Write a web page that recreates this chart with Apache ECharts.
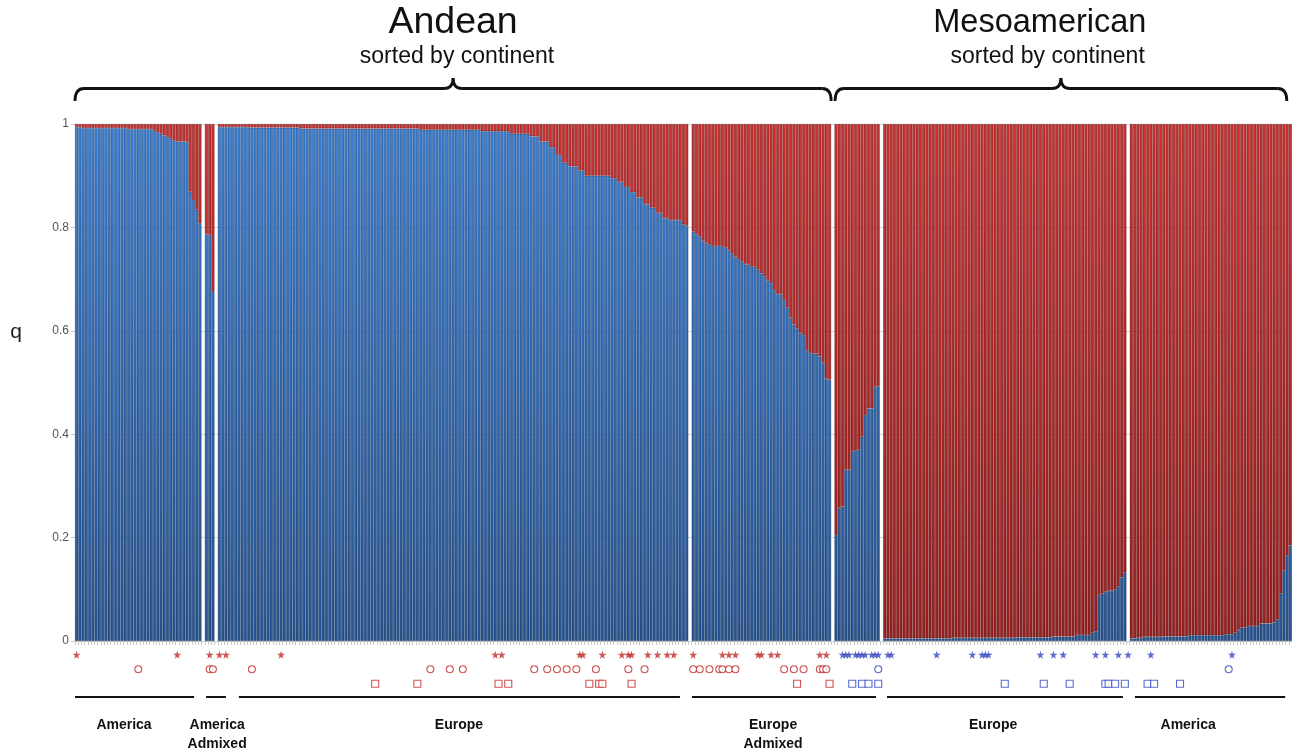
<!DOCTYPE html>
<html><head><meta charset="utf-8">
<script src="https://cdn.jsdelivr.net/npm/echarts@6/dist/echarts.min.js"></script>
<style>html,body{margin:0;padding:0;background:#fff}#c{width:1292px;height:751px}</style>
</head><body><div id="c"></div>
<script>
// ---- q values (blue component), one array per population block, left to right ----
const qAndeanAmerica = [0.994,0.994,0.992,0.992,0.992,0.992,0.992,0.992,0.992,0.992,0.992,0.992,0.992,0.992,0.992,0.992,
  0.990,0.990,0.990,0.990,0.990,0.990,0.990,0.990,0.987,0.984,0.981,0.978,0.975,0.972,0.968,0.966,0.966,0.966,0.965,
  0.869,0.853,0.834,0.808];
const qAndeanAmericaAdmixed = [0.787,0.785,0.675];
const qAndeanEurope = [0.994,0.994,0.994,0.994,0.994,0.994,0.994,0.994,0.994,0.994,
  0.993,0.993,0.993,0.993,0.993,0.993,0.993,0.993,0.993,0.993,0.993,0.993,0.993,0.993,0.993,
  0.991,0.991,0.991,0.991,0.991,0.991,0.991,0.991,0.991,0.991,0.991,0.991,0.991,0.991,0.991,0.991,0.991,0.991,0.991,
  0.991,0.991,0.991,0.991,0.991,0.991,0.991,0.991,0.991,0.991,0.991,0.991,0.991,0.991,0.991,0.991,0.991,0.991,
  0.989,0.989,0.989,0.989,0.989,0.989,0.989,0.989,0.989,0.989,0.989,0.989,0.989,0.989,0.989,0.989,0.989,0.989,0.989,
  0.986,0.986,0.986,0.986,0.986,0.986,0.986,0.986,0.986,
  0.981,0.981,0.981,0.981,0.981,0.981,0.976,0.976,0.976,0.966,0.966,0.966,0.955,0.955,0.940,0.940,0.925,0.925,
  0.918,0.918,0.918,0.910,0.910,0.900,0.900,0.900,0.900,0.900,0.900,0.900,0.900,0.895,0.895,0.888,0.888,0.878,0.878,
  0.868,0.868,0.858,0.858,0.845,0.845,0.838,0.838,0.828,0.828,0.818,0.818,0.814,0.814,0.814,0.814,0.806,0.803];
const qAndeanEuropeAdmixed = [0.792,0.787,0.783,0.774,0.770,0.767,0.764,0.764,0.764,0.764,
  0.761,0.756,0.750,0.743,0.739,0.734,0.729,0.729,0.724,0.724,
  0.718,0.711,0.705,0.698,0.692,0.679,0.671,0.671,0.660,0.645,
  0.625,0.612,0.604,0.596,0.592,0.563,0.557,0.556,0.556,0.550,0.538,0.507,0.505];
const qMesoEuropeAdmixed = [0.205,0.257,0.260,0.331,0.331,0.366,0.369,0.370,0.395,0.437,0.450,0.450,0.491,0.493];
const qMesoEurope = [0.005,0.005,0.005,0.005,0.005,0.005,0.005,0.005,0.005,0.005,0.005,0.005,0.005,0.005,0.005,0.005,0.005,0.005,0.005,0.005,0.005,
  0.006,0.006,0.006,0.006,0.006,0.006,0.006,0.006,0.006,0.006,0.006,0.006,0.006,0.006,0.006,0.006,0.006,0.006,0.006,0.006,
  0.007,0.007,0.007,0.007,0.007,0.007,0.007,0.007,0.007,0.007,0.007,
  0.0084,0.0084,0.0084,0.0084,0.0084,0.0084,0.0084,0.0116,0.0116,0.0116,0.0116,0.0116,
  0.016,0.019,0.089,0.092,0.095,0.097,0.097,0.100,0.106,0.123,0.133];
const qMesoAmerica = [0.005,0.005,0.006,0.006,0.008,0.008,0.008,0.008,0.008,0.008,
  0.009,0.009,0.009,0.009,0.009,0.009,0.009,0.009,
  0.011,0.011,0.011,0.011,0.011,0.011,0.011,0.011,0.011,0.011,0.011,
  0.013,0.013,0.013,0.016,0.021,0.026,0.026,0.029,0.029,0.029,0.029,
  0.034,0.034,0.034,0.034,0.036,0.042,0.092,0.136,0.166,0.185];

// ---- marker rows: positions are indices into the full bar list (gaps included) ----
const redStars = [0,31,41,44,46,63,129,131,155,156,162,168,170,171,176,179,182,184,190,199,201,203,210,211,214,216,229,231];
const blueStars = [236,237,238,240,241,242,243,245,246,247,250,251,265,276,279,280,281,297,301,304,314,317,321,324,331,356];
const redCircles = [19,41,42,54,109,115,119,141,145,148,151,154,160,170,175,190,192,195,198,199,201,203,218,221,224,229,230,231];
const blueCircles = [247,355];
const redSquares = [92,105,130,133,158,161,162,171,222,232];
const blueSquares = [239,242,244,247,286,298,306,317,318,320,323,330,332,340];

// ---- texts ----
const yTicks = [0, 0.2, 0.4, 0.6, 0.8, 1];
const yName = 'q';
const topTitles = ['Andean', 'Mesoamerican'];
const topSubtitles = ['sorted by continent', 'sorted by continent'];
const groupLabels = ['America', 'America\nAdmixed', 'Europe', 'Europe\nAdmixed', 'Europe', 'America'];
const rowNames = ['snp', 'str', 'mt'];

// ---- build the slot table (one empty slot between blocks) ----
const blocks = [qAndeanAmerica, qAndeanAmericaAdmixed, qAndeanEurope, qAndeanEuropeAdmixed, qMesoEuropeAdmixed, qMesoEurope, qMesoAmerica];
const qSlots = [];
blocks.forEach((b, bi) => { if (bi > 0) qSlots.push(null); b.forEach(v => qSlots.push(v)); });
const categories = qSlots.map((_, i) => 'i' + i);
const redSlots = qSlots.map(v => v == null ? null : +(1 - v).toFixed(4));

// ---- layout (in slot units along the x axis) ----
const braceSpans = [[-0.5, 232.5], [233.7, 372.9]];
const titleCenters = [116, 296.8];
const titleSizes = [37.5, 32.5];
const subtitleCenters = [117.2, 299.2];
const underlineSpans = [[-0.5, 36.2], [39.9, 46.0], [50.0, 185.9], [189.6, 246.3], [249.7, 322.4], [326.1, 372.4]];
const labelCenters = [14.6, 43.3, 117.8, 214.6, 282.4, 342.5];

const FONT = '"Liberation Sans", Arial, Helvetica, sans-serif';
const RED = '#c02a28', BLUE = '#3546c2';
const starPath = 'path://M50,0 L61,35 L98,35 L68,57 L79,91 L50,70 L21,91 L32,57 L2,35 L39,35 Z';

const chart = echarts.init(document.getElementById('c'), null, {renderer: 'canvas'});
const blueGrad = new echarts.graphic.LinearGradient(0, 124, 0, 641, [
  {offset: 0, color: '#3d80d2'}, {offset: 1, color: '#29558f'}], true);
const redGrad = new echarts.graphic.LinearGradient(0, 124, 0, 641, [
  {offset: 0, color: '#c83434'}, {offset: 1, color: '#952020'}], true);

function markerSeries(list, row, symbol, color, hollow) {
  return {
    type: 'scatter', xAxisIndex: 1, yAxisIndex: 1, symbol: symbol,
    symbolSize: symbol === starPath ? 8 : 7, silent: true,
    itemStyle: hollow ? {color: '#fff', borderColor: color, borderWidth: 1.1} : {color: color},
    data: list.map(i => [i, row])
  };
}

chart.setOption({
  animation: false,
  backgroundColor: '#fff',
  grid: [
    {left: 75, right: 0, top: 124, bottom: 110},
    {left: 75, right: 0, top: 647.5, height: 43.5}
  ],
  xAxis: [
    {type: 'category', gridIndex: 0, data: categories, boundaryGap: true,
     axisLine: {lineStyle: {color: '#c8c8c8'}},
     axisTick: {show: true, interval: 0, length: 4, lineStyle: {color: '#c8c8c8'}},
     axisLabel: {show: false}, splitLine: {show: false}},
    {type: 'category', gridIndex: 1, data: categories, boundaryGap: true, show: false}
  ],
  yAxis: [
    {type: 'value', gridIndex: 0, min: 0, max: 1, interval: 0.2,
     axisLine: {show: true, lineStyle: {color: '#c8c8c8'}},
     axisTick: {show: true, length: 4, lineStyle: {color: '#c8c8c8'}},
     axisLabel: {fontFamily: FONT, fontSize: 12, color: '#555', margin: 6,
       formatter: v => yTicks.indexOf(v) >= 0 ? String(v) : ''},
     splitLine: {show: true, lineStyle: {color: '#d6d6d6', width: 1}}},
    {type: 'category', gridIndex: 1, data: rowNames, inverse: true, show: false}
  ],
  series: [
    {type: 'bar', name: 'Andean', stack: 'q', data: qSlots, barCategoryGap: '0%', silent: true,
     itemStyle: {color: blueGrad, borderColor: 'rgba(15,35,80,0.28)', borderWidth: 0.6}},
    {type: 'bar', name: 'Mesoamerican', stack: 'q', data: redSlots, barCategoryGap: '0%', silent: true,
     itemStyle: {color: redGrad, borderColor: 'rgba(70,0,0,0.25)', borderWidth: 0.6}},
    markerSeries(redStars, 0, starPath, RED, false),
    markerSeries(blueStars, 0, starPath, BLUE, false),
    markerSeries(redCircles, 1, 'circle', RED, true),
    markerSeries(blueCircles, 1, 'circle', BLUE, true),
    markerSeries(redSquares, 2, 'rect', RED, true),
    markerSeries(blueSquares, 2, 'rect', BLUE, true)
  ]
});

// ---- annotations placed through the x axis ----
const p0 = chart.convertToPixel({xAxisIndex: 0}, 0);
const p1 = chart.convertToPixel({xAxisIndex: 0}, 1);
const px = s => p0 + s * (p1 - p0);
const g = [];
const yApex = 78, yLine = 88.5, yEnd = 101, r = 9;
braceSpans.forEach(([a, b]) => {
  const x0 = px(a), x1 = px(b), xc = (x0 + x1) / 2;
  const ls = {stroke: '#111', lineWidth: 2.8, fill: null};
  g.push({type: 'bezierCurve', shape: {x1: x0, y1: yEnd, cpx1: x0, cpy1: yLine, x2: x0 + r, y2: yLine}, style: ls, silent: true});
  g.push({type: 'line', shape: {x1: x0 + r, y1: yLine, x2: xc - r, y2: yLine}, style: ls, silent: true});
  g.push({type: 'bezierCurve', shape: {x1: xc - r, y1: yLine, cpx1: xc, cpy1: yLine, x2: xc, y2: yApex}, style: ls, silent: true});
  g.push({type: 'bezierCurve', shape: {x1: xc, y1: yApex, cpx1: xc, cpy1: yLine, x2: xc + r, y2: yLine}, style: ls, silent: true});
  g.push({type: 'line', shape: {x1: xc + r, y1: yLine, x2: x1 - r, y2: yLine}, style: ls, silent: true});
  g.push({type: 'bezierCurve', shape: {x1: x1 - r, y1: yLine, cpx1: x1, cpy1: yLine, x2: x1, y2: yEnd}, style: ls, silent: true});
});
topTitles.forEach((t, i) => {
  g.push({type: 'text', x: px(titleCenters[i]), y: 23, silent: true,
    style: {text: t, font: titleSizes[i] + 'px ' + FONT, fill: '#111', align: 'center', verticalAlign: 'middle'}});
  g.push({type: 'text', x: px(subtitleCenters[i]), y: 57, silent: true,
    style: {text: topSubtitles[i], font: '23px ' + FONT, fill: '#111', align: 'center', verticalAlign: 'middle'}});
});
g.push({type: 'text', x: 16, y: 332, silent: true,
  style: {text: yName, font: '21px ' + FONT, fill: '#222', align: 'center', verticalAlign: 'middle'}});
underlineSpans.forEach(([a, b]) => {
  g.push({type: 'line', shape: {x1: px(a), y1: 697, x2: px(b), y2: 697}, style: {stroke: '#111', lineWidth: 2}, silent: true});
});
groupLabels.forEach((t, i) => {
  g.push({type: 'text', x: px(labelCenters[i]), y: 716, silent: true,
    style: {text: t, font: 'bold 14px ' + FONT, fill: '#111', align: 'center', verticalAlign: 'top', lineHeight: 19}});
});
chart.setOption({graphic: {elements: g}});
</script>
</body></html>
